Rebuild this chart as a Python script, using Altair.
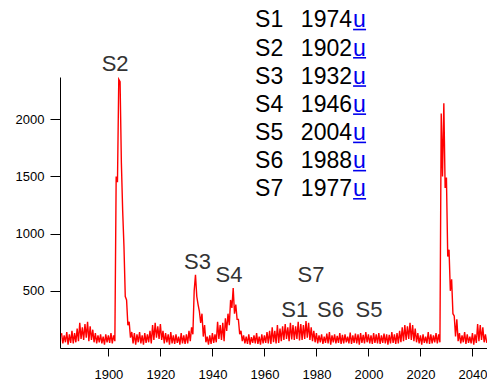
import altair as alt
import pandas as pd

# ---- spectrum trace: upper (hi, at year) and lower (lo, at year+0.5) envelope
years = list(range(1882, 2046))
hi = [
    130, 110, 140, 120, 150, 130,                 # 1882-1887
    170, 220, 180, 210, 230, 190, 160,            # 1888-1894
    130, 110, 120, 100, 120, 110, 130,            # 1895-1901
    110,                                          # 1902
    1500, 2350, 1620, 885, 420, 230,              # 1903-1908 (S2)
    140, 130, 120, 140, 110, 130, 120, 150,       # 1909-1916
    200, 220, 190, 210,                           # 1917-1920
    150, 130, 120, 140, 110, 120, 100, 130, 110, 120, 150,  # 1921-1931
    180, 500, 450, 320, 300,                      # 1932-1936 (S3)
    200, 100, 110, 130, 120,                      # 1937-1941
    230, 200, 220, 260,                           # 1942-1945
    300, 420, 525, 380, 250, 150,                 # 1946-1951 (S4)
    110, 100, 120, 95, 110, 130, 100, 120, 110, 140, 150,   # 1952-1962
    180, 150, 200, 170,                           # 1963-1966
    190, 210, 180, 220, 200, 190, 230, 210, 200, 235, 220, 180, 150,  # 1967-1979
    130, 110, 120, 100, 125, 140, 110, 120, 105, 130, 115, 120, 100,
    135, 110, 125, 120, 130, 115, 140, 120, 110, 130,       # 1980-2002
    120, 130, 110, 125, 120, 115, 140, 120, 130, 150,       # 2003-2012
    180, 200, 190, 220, 200, 170,                 # 2013-2018
    130, 110, 120, 100, 140, 120, 110, 130, 120,  # 2019-2027
    2050, 2140, 1490, 860, 600, 280, 250,         # 2028-2034
    130, 110, 140, 120, 100, 130, 120,            # 2035-2041
    210, 200, 180,                                # 2042-2044
    120,                                          # 2045
]
lo = [
    40, 50, 30, 45, 40, 50,
    60, 80, 70, 90, 60, 70, 50,
    40, 50, 40, 30, 50, 45, 40,
    60,
    1450, 2330, 1200, 450, 200, 90,
    40, 30, 50, 40, 30, 45, 50, 40,
    70, 90, 80, 70,
    40, 50, 30, 40, 35, 45, 30, 40, 35, 40, 60,
    120, 640, 380, 220, 100,
    50, 30, 35, 45, 50,
    80, 70, 60, 150,
    200, 350, 300, 250, 120, 60,
    40, 35, 30, 45, 40, 35, 30, 40, 45, 40, 35,
    50, 40, 45, 60,
    70, 80, 60, 75, 70, 80, 65, 70, 80, 90, 70, 60, 50,
    40, 50, 35, 45, 40, 30, 50, 40, 45, 35, 40, 50, 40,
    35, 45, 40, 30, 45, 40, 50, 40, 35, 45,
    40, 35, 45, 40, 30, 40, 45, 35, 40, 50,
    60, 70, 80, 70, 60, 50,
    40, 30, 45, 40, 35, 40, 50, 40, 50,
    1500, 1400, 800, 500, 300, 100, 60,
    40, 50, 35, 45, 40, 30, 45,
    60, 70, 50,
    45,
]

# ---- peak labels
peak_names = ["S2", "S3", "S4", "S7", "S1", "S6", "S5"]
peak_x = [1902.6, 1934.3, 1946.4, 1977.9, 1971.7, 1985.4, 2000.2]
peak_y = [2422, 691, 577, 577, 274, 274, 274]

# ---- text block
leg_names = ["S1", "S2", "S3", "S4", "S5", "S6", "S7"]
leg_years = ["1974", "1902", "1932", "1946", "2004", "1988", "1977"]
leg_y = [2805, 2558, 2311, 2065, 1818, 1571, 1325]
leg_name_x = 1956.4
leg_year_x = 1993.7
leg_u_x = 1994.1
leg_u_x2 = 1999.1

x_ticks = [1900, 1920, 1940, 1960, 1980, 2000, 2020, 2040]
y_ticks = [500, 1000, 1500, 2000]

rows = []
for i, (yr, h, l) in enumerate(zip(years, hi, lo)):
    rows.append({"x": yr, "v": h, "o": 2 * i})
    rows.append({"x": yr + 0.5, "v": l, "o": 2 * i + 1})
trace = pd.DataFrame(rows)

peaks = pd.DataFrame({"x": peak_x, "v": peak_y, "t": peak_names})
names_df = pd.DataFrame({"x": [leg_name_x] * 7, "v": leg_y, "t": leg_names})
years_df = pd.DataFrame({"x": [leg_year_x] * 7, "v": leg_y, "t": leg_years})
u_df = pd.DataFrame({"x": [leg_u_x] * 7, "x2": [leg_u_x2] * 7,
                     "v": leg_y, "vu": [v - 20 for v in leg_y], "t": ["u"] * 7})

FONT = "Liberation Sans"

xs = alt.Scale(domain=[1881.4, 2045.6], nice=False, zero=False)
ys = alt.Scale(domain=[0, 2370], nice=False, zero=False)
xaxis = alt.Axis(values=x_ticks, format="d", title=None, grid=False, tickSize=8,
                 labelPadding=12, labelFont=FONT, labelFontSize=13, labelColor="#000",
                 domainColor="#000", tickColor="#000", labelFlush=False, labelOverlap=False)
yaxis = alt.Axis(values=y_ticks, format="d", title=None, grid=False, tickSize=10,
                 labelPadding=6, labelFont=FONT, labelFontSize=13, labelColor="#000",
                 domainColor="#000", tickColor="#000", labelFlush=False, labelOverlap=False)
xenc = alt.X("x:Q", scale=xs, axis=xaxis)
yenc = alt.Y("v:Q", scale=ys, axis=yaxis)

line = alt.Chart(trace).mark_line(color="#ff0000", strokeWidth=1.4, clip=True).encode(
    x=xenc, y=yenc, order="o:Q")

peak_txt = alt.Chart(peaks).mark_text(font=FONT, fontSize=22, color="#333",
                                      align="center", baseline="alphabetic").encode(
    x=xenc, y=yenc, text="t:N")

name_txt = alt.Chart(names_df).mark_text(font=FONT, fontSize=23, color="#000",
                                         align="left", baseline="alphabetic").encode(
    x=xenc, y=yenc, text="t:N")
year_txt = alt.Chart(years_df).mark_text(font=FONT, fontSize=23, color="#000",
                                         align="right", baseline="alphabetic").encode(
    x=xenc, y=yenc, text="t:N")
u_txt = alt.Chart(u_df).mark_text(font=FONT, fontSize=23, color="#0000ee",
                                  align="left", baseline="alphabetic").encode(
    x=xenc, y=yenc, text="t:N")
u_line = alt.Chart(u_df).mark_rule(color="#0000ee", strokeWidth=1.6).encode(
    x=xenc, x2="x2:Q", y=alt.Y("vu:Q", scale=ys, axis=yaxis))

chart = alt.layer(line, peak_txt, name_txt, year_txt, u_txt, u_line).properties(
    width=427, height=271,
    padding={"left": 60, "top": 77, "right": 0, "bottom": 39},
    autosize=alt.AutoSizeParams(type="none"),
    background="white",
).configure_view(stroke=None)

chart.save("out.html", embed_options={"renderer": "svg", "actions": False})
